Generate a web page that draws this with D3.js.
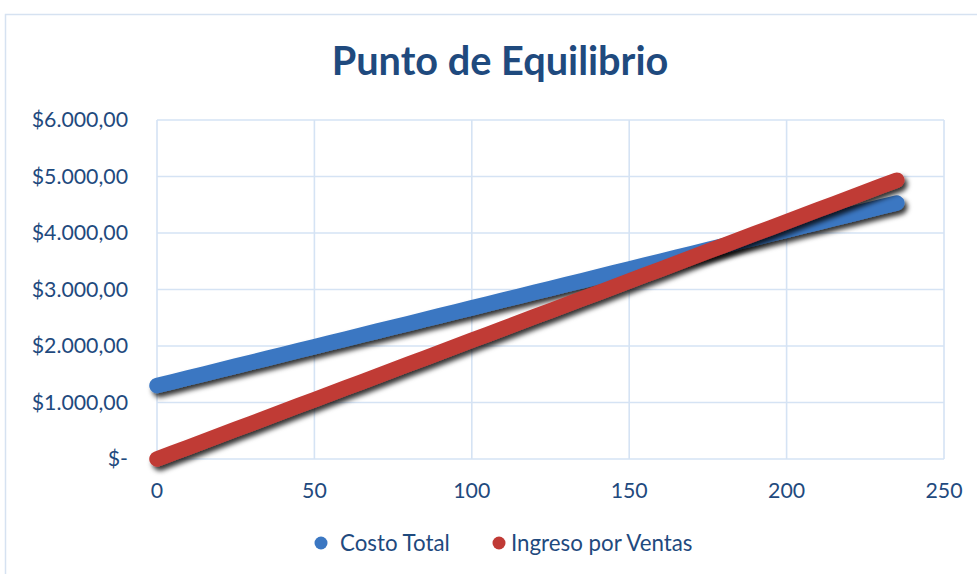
<!DOCTYPE html>
<html>
<head>
<meta charset="utf-8">
<script src="https://cdn.jsdelivr.net/npm/d3@7"></script>
<style>
  body { margin: 0; background: #fff; }
  text { font-family: Lato, "Open Sans", sans-serif; fill: #1f4a7e; }
</style>
</head>
<body>
<div id="chart"></div>
<script>
// datos (unidades vendidas cada 5)
const unidades = [0,5,10,15,20,25,30,35,40,45,50,55,60,65,70,75,80,85,90,95,
  100,105,110,115,120,125,130,135,140,145,150,155,160,165,170,175,180,185,190,195,
  200,205,210,215,220,225,230,235];
const costoTotal = [1300,1369,1438,1506,1575,1644,1713,1781,1850,1919,1988,2056,2125,2194,2263,2331,2400,2469,2538,2606,
  2675,2744,2813,2881,2950,3019,3088,3156,3225,3294,3363,3431,3500,3569,3638,3706,3775,3844,3913,3981,
  4050,4119,4188,4256,4325,4394,4463,4531];
const ingresoVentas = [0,105,210,315,420,525,630,735,840,945,1050,1155,1260,1365,1470,1575,1680,1785,1890,1995,
  2100,2205,2310,2415,2520,2625,2730,2835,2940,3045,3150,3255,3360,3465,3570,3675,3780,3885,3990,4095,
  4200,4305,4410,4515,4620,4725,4830,4935];
const series = ['Costo Total', 'Ingreso por Ventas'];
const colores = ['#3b77c2', '#c03a35'];
const xTicks = [0, 50, 100, 150, 200, 250];
const yTicks = [0, 1000, 2000, 3000, 4000, 5000, 6000];

const W = 977, H = 574;
const plot = {left: 157, right: 944, top: 120, bottom: 459};

const svg = d3.select('#chart').append('svg')
    .attr('width', W).attr('height', H);

const defs = svg.append('defs');
const f = defs.append('filter').attr('id', 'sombra')
    .attr('x', '-20%').attr('y', '-20%').attr('width', '140%').attr('height', '140%');
f.append('feDropShadow')
    .attr('dx', 3).attr('dy', 4).attr('stdDeviation', 2.5)
    .attr('flood-color', '#000').attr('flood-opacity', 0.8);

// marco exterior
svg.append('rect')
    .attr('x', 5.5).attr('y', 14.5).attr('width', 1000).attr('height', 600)
    .attr('fill', 'none').attr('stroke', '#d6e2f1').attr('stroke-width', 1.5);

const x = d3.scaleLinear().domain([0, 250]).range([plot.left, plot.right]);
const y = d3.scaleLinear().domain([0, 6000]).range([plot.bottom, plot.top]);

// rejilla
svg.append('g').selectAll('line.h').data(yTicks).enter().append('line')
    .attr('x1', plot.left).attr('x2', plot.right)
    .attr('y1', d => y(d)).attr('y2', d => y(d))
    .attr('stroke', '#d5e3f4').attr('stroke-width', 1.6);
svg.append('g').selectAll('line.v').data(xTicks).enter().append('line')
    .attr('y1', plot.top).attr('y2', plot.bottom)
    .attr('x1', d => x(d)).attr('x2', d => x(d))
    .attr('stroke', '#d5e3f4').attr('stroke-width', 1.6);

// etiquetas de ejes
const fmt = d => d === 0 ? '$-' : '$' + d3.format(',.2f')(d).replace(/,/g, 'X').replace('.', ',').replace(/X/g, '.');
svg.append('g').selectAll('text').data(yTicks).enter().append('text')
    .attr('x', 128).attr('y', d => y(d)).attr('dy', '0.35em')
    .attr('text-anchor', 'end').attr('font-size', 21.3)
    .text(fmt);
svg.append('g').selectAll('text').data(xTicks).enter().append('text')
    .attr('x', d => x(d)).attr('y', 498)
    .attr('text-anchor', 'middle').attr('font-size', 21.3)
    .text(d => d);

// series
const datos = [costoTotal, ingresoVentas];
const linea = d3.line().x((d, i) => x(unidades[i])).y(d => y(d));
datos.forEach((vals, k) => {
  const g = svg.append('g').attr('filter', 'url(#sombra)');
  g.append('path').datum(vals)
      .attr('d', linea)
      .attr('fill', 'none')
      .attr('stroke', colores[k])
      .attr('stroke-width', 15.5)
      .attr('stroke-linecap', 'round')
      .attr('stroke-linejoin', 'round');
});

// titulo
svg.append('text')
    .attr('x', 500).attr('y', 75)
    .attr('text-anchor', 'middle')
    .attr('font-size', 39.7).attr('font-weight', 'bold')
    .text('Punto de Equilibrio');

// leyenda
const leyX = [321, 499];
const leyTxt = [340, 511];
series.forEach((s, k) => {
  svg.append('circle').attr('cx', leyX[k]).attr('cy', 543).attr('r', 6.5)
      .attr('fill', colores[k]);
  svg.append('text').attr('x', leyTxt[k]).attr('y', 543).attr('dy', '0.35em')
      .attr('font-size', 22.3).text(s);
});
</script>
</body>
</html>
